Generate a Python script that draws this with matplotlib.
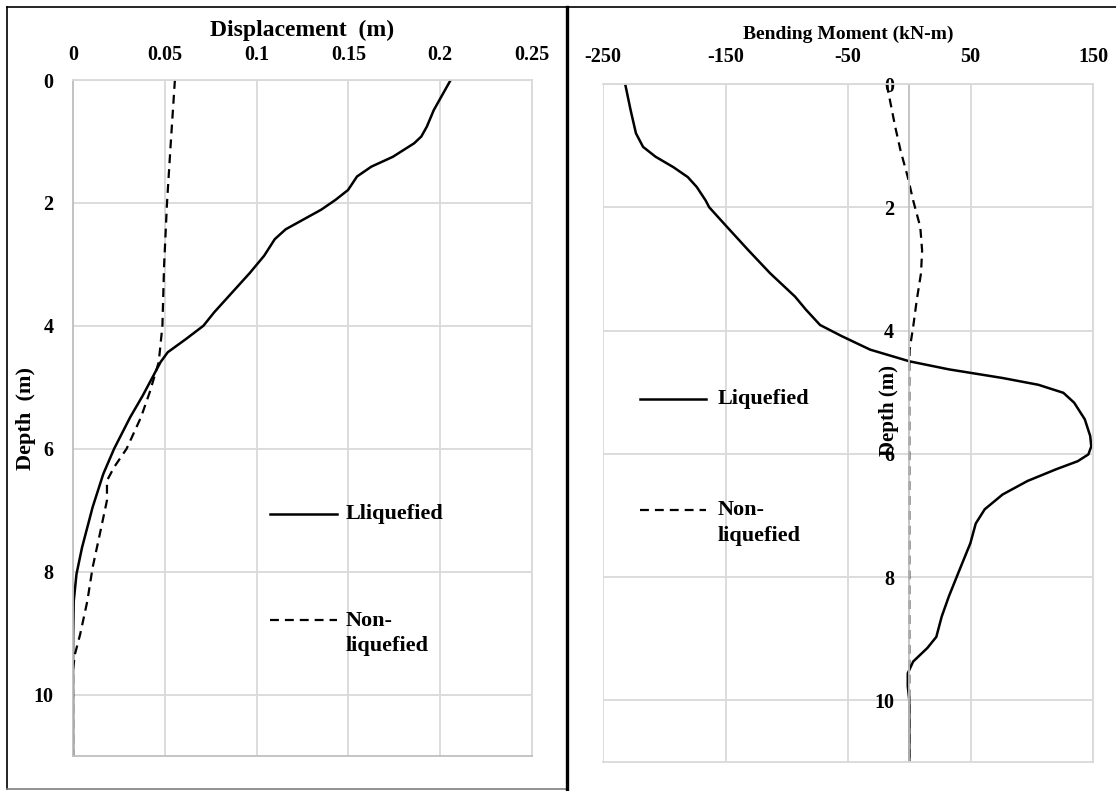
import matplotlib
matplotlib.use("Agg")
import matplotlib.pyplot as plt
from matplotlib.lines import Line2D

plt.rcParams['font.family'] = ['Liberation Serif', 'DejaVu Serif']
plt.rcParams['font.weight'] = 'bold'
plt.rcParams['axes.labelweight'] = 'bold'
plt.rcParams['axes.unicode_minus'] = False

# Displacement profile (m) vs depth (m)
disp_liq_depth = [0, 0.49, 0.76, 0.92, 1.03, 1.25, 1.41, 1.57, 1.79, 1.95, 2.11, 2.27, 2.43, 2.59,
                  2.86, 3.14, 3.46, 3.78, 4.0, 4.22, 4.43, 4.59, 4.81, 5.14, 5.49, 6.0, 6.41,
                  6.95, 7.61, 8.04, 8.48, 9.0, 9.57, 11]
disp_liq = [0.2057, 0.1965, 0.1927, 0.1897, 0.1858, 0.1742, 0.1625, 0.1547, 0.1498, 0.1430,
            0.1352, 0.1255, 0.1158, 0.1099, 0.1041, 0.0963, 0.0866, 0.0769, 0.0710, 0.0613,
            0.0516, 0.0477, 0.0438, 0.0379, 0.0311, 0.0224, 0.0165, 0.0107, 0.0049, 0.0019,
            0.0004, 0.0001, 0.0, 0.0]

disp_non_depth = [0, 1.0, 2.0, 3.03, 4.0, 4.59, 5.08, 5.49, 6.0, 6.30, 6.52, 6.84, 7.39, 7.93,
                  8.48, 9.02, 9.35, 9.6, 11]
disp_non = [0.0555, 0.0533, 0.0512, 0.0496, 0.0487, 0.0467, 0.0418, 0.037, 0.0292, 0.0224,
            0.0185, 0.0185, 0.0146, 0.0107, 0.0078, 0.0039, 0.001, 0.0, 0.0]

# Bending moment (kN-m) vs depth (m)
bm_liq_depth = [0, 0.42, 0.80, 1.02, 1.18, 1.35, 1.51, 1.67, 1.89, 2.0, 2.32, 2.70, 3.07, 3.45,
                3.66, 3.91, 4.09, 4.31, 4.50, 4.63, 4.77, 4.88, 5.01, 5.17, 5.44, 5.71, 5.88,
                6.01, 6.12, 6.25, 6.44, 6.66, 6.90, 7.13, 7.45, 7.88, 8.31, 8.64, 8.97, 9.15,
                9.37, 9.56, 9.77, 9.99, 11]
bm_liq = [-231.9, -227.5, -223.1, -217.3, -207.1, -192.5, -180.8, -173.5, -166.2, -163.3,
          -148.7, -131.2, -113.6, -93.2, -84.4, -72.8, -55.2, -31.9, 0.3, 32.4, 76.2, 105.4,
          125.8, 134.6, 143.3, 147.7, 148.6, 146.2, 137.5, 120.0, 96.6, 76.2, 61.6, 54.3,
          49.9, 41.1, 32.4, 26.5, 22.1, 14.8, 3.2, -1.2, -1.2, 0.0, 0.0]

bm_non_depth = [0, 0.26, 0.70, 1.08, 1.51, 1.89, 2.32, 2.70, 3.07, 3.51, 3.94, 4.31, 4.58, 11]
bm_non = [-18.4, -15.8, -11.4, -7.1, -1.2, 3.2, 9.0, 10.5, 9.6, 6.1, 3.2, 0.3, 0.0, 0.0]

depth_ticks = [0, 2, 4, 6, 8, 10]
disp_ticks = [0, 0.05, 0.1, 0.15, 0.2, 0.25]
disp_labels = ['0', '0.05', '0.1', '0.15', '0.2', '0.25']
bm_ticks = [-250, -150, -50, 50, 150]

W, H = 1116, 791
fig = plt.figure(figsize=(W / 100, H / 100), dpi=100)

grid_c = '#d9d9d9'
spine_c = '#bfbfbf'
dash = (4, 2.7)


def px_axes(x0, y0, x1, y1):
    return fig.add_axes([x0 / W, 1 - y1 / H, (x1 - x0) / W, (y1 - y0) / H])


def style(ax):
    ax.set_ylim(11, 0)
    ax.set_yticks(depth_ticks)
    ax.xaxis.tick_top()
    ax.xaxis.set_label_position('top')
    ax.tick_params(length=0, labelsize=14.5)
    ax.grid(True, color=grid_c, linewidth=1.3)
    ax.set_axisbelow(True)
    for s in ax.spines.values():
        s.set_color(grid_c)
        s.set_linewidth(1.3)


# --- left: displacement
ax1 = px_axes(73, 80, 532, 756)
style(ax1)
ax1.set_xlim(0, 0.25)
ax1.set_xticks(disp_ticks)
ax1.set_xticklabels(disp_labels)
ax1.tick_params(axis='x', pad=11)
ax1.tick_params(axis='y', pad=14)
ax1.spines['left'].set_color(spine_c)
ax1.spines['bottom'].set_color(spine_c)
ax1.plot(disp_liq, disp_liq_depth, color='black', lw=1.8)
ax1.plot(disp_non, disp_non_depth, color='black', lw=1.6, dashes=dash)
ax1.set_xlabel('Displacement  (m)', fontsize=17, labelpad=6)
ax1.set_ylabel('Depth  (m)', fontsize=16)
ax1.yaxis.set_label_coords(-0.08, 0.5)

# legend, left
ax1.add_line(Line2D([0.429, 0.575], [0.358, 0.358], transform=ax1.transAxes, color='black', lw=1.8))
ax1.text(0.595, 0.358, 'Lliquefied', transform=ax1.transAxes, fontsize=16, va='center')
ax1.add_line(Line2D([0.429, 0.575], [0.201, 0.201], transform=ax1.transAxes, color='black',
                    lw=1.6, dashes=dash))
ax1.text(0.595, 0.2145, 'Non-\nliquefied', transform=ax1.transAxes, fontsize=16, va='top',
         linespacing=1.35)

# --- right: bending moment
ax2 = px_axes(603, 84, 1093, 762)
style(ax2)
ax2.set_xlim(-250, 150)
ax2.set_xticks(bm_ticks)
ax2.tick_params(axis='x', pad=12)
ax2.tick_params(axis='y', pad=11)
ax2.spines['left'].set_position(('data', 0))
ax2.spines['left'].set_color(spine_c)
ax2.plot(bm_liq, bm_liq_depth, color='black', lw=1.8)
ax2.plot(bm_non, bm_non_depth, color='black', lw=1.6, dashes=dash)
ax2.set_xlabel('Bending Moment (kN-m)', fontsize=14, labelpad=6)
ax2.set_ylabel('Depth (m)', fontsize=15)
ax2.yaxis.set_label_coords(0.604, 0.518)

# legend, right
ax2.add_line(Line2D([0.076, 0.210], [0.536, 0.536], transform=ax2.transAxes, color='black', lw=1.8))
ax2.text(0.233, 0.536, 'Liquefied', transform=ax2.transAxes, fontsize=16, va='center')
ax2.add_line(Line2D([0.076, 0.210], [0.372, 0.372], transform=ax2.transAxes, color='black',
                    lw=1.6, dashes=dash))
ax2.text(0.233, 0.386, 'Non-\nliquefied', transform=ax2.transAxes, fontsize=16, va='top',
         linespacing=1.35)

# outer frame of the figure
fig.add_artist(Line2D([7 / W, 1], [1 - 7 / H, 1 - 7 / H], color='black', lw=1.2))
fig.add_artist(Line2D([7 / W, 7 / W], [1 - 7 / H, 1 - 789 / H], color='black', lw=1.2))
fig.add_artist(Line2D([7 / W, 567 / W], [1 - 789 / H, 1 - 789 / H], color='#7f7f7f', lw=1.2))
fig.add_artist(Line2D([567 / W, 567 / W], [1 - 7 / H, 0], color='black', lw=2.4))

fig.savefig('out.png', dpi=100)
